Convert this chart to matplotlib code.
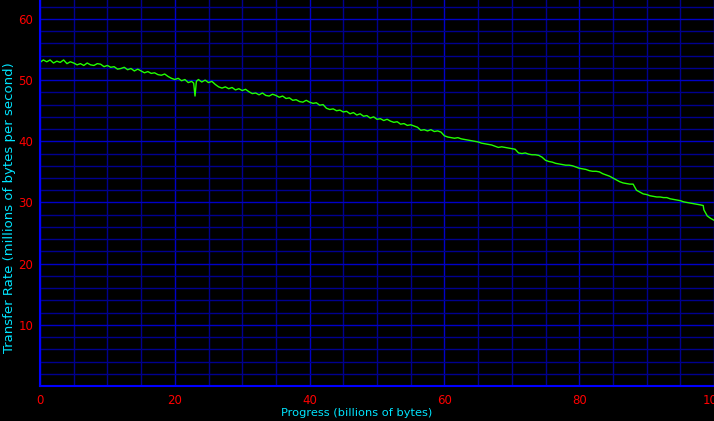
import matplotlib
matplotlib.use("Agg")
import matplotlib.pyplot as plt
from matplotlib.ticker import MultipleLocator

# Data (progress in billions of bytes, rate in MB/s)
progress = [0, 0.5, 1, 1.5, 2, 2.5, 3, 3.5, 4, 4.5, 5, 5.5, 6, 6.5, 7, 7.5, 8, 8.5, 9, 9.5,
            10, 10.5, 11, 11.5, 12, 12.5, 13, 13.5, 14, 14.5, 15, 15.5, 16, 16.5, 17, 17.5,
            18, 18.5, 19, 19.5, 20, 20.5, 21, 21.5, 22, 22.5, 22.8, 23.0, 23.2, 23.5, 24,
            24.5, 25, 25.5, 26, 26.5, 27, 27.5, 28, 28.5, 29, 29.5, 30, 30.5, 31, 31.5,
            32, 32.5, 33, 33.5, 34, 34.5, 35, 35.5, 36, 36.5, 37, 37.5, 38, 38.5, 39, 39.5,
            40, 40.5, 41, 41.5, 42, 42.5, 43, 43.5, 44, 44.5, 45, 45.5, 46, 46.5, 47, 47.5,
            48, 48.5, 49, 49.5, 50, 50.5, 51, 51.5, 52, 52.5, 53, 53.5, 54, 54.5, 55, 55.5,
            56, 56.5, 57, 57.5, 58, 58.5, 59, 59.5, 60, 60.5, 61, 61.5, 62, 62.5, 63, 63.5,
            64, 64.5, 65, 65.5, 66, 66.5, 67, 67.5, 68, 68.5, 69, 69.5, 70, 70.5, 71, 71.5,
            72, 72.5, 73, 73.5, 74, 74.5, 75, 75.5, 76, 76.5, 77, 77.5, 78, 78.5, 79, 79.5,
            80, 80.5, 81, 81.5, 82, 82.5, 83, 83.5, 84, 84.5, 85, 85.5, 86, 86.5, 87, 87.5,
            88, 88.5, 89, 89.5, 90, 90.5, 91, 91.5, 92, 92.5, 93, 93.5, 94, 94.5, 95, 95.5,
            96, 96.5, 97, 97.5, 98, 98.4, 98.5, 99, 99.5, 100]
rate = [52.9, 53.3, 53.0, 53.3, 52.8, 53.1, 52.9, 53.3, 52.7, 53.0, 52.8, 52.5, 52.7, 52.4,
        52.8, 52.5, 52.4, 52.7, 52.6, 52.2, 52.4, 52.1, 52.2, 51.8, 51.9, 52.1, 51.7, 51.9,
        51.5, 51.8, 51.5, 51.2, 51.4, 51.1, 51.2, 50.9, 50.8, 51.0, 50.6, 50.3, 50.1, 50.3,
        49.9, 50.1, 49.6, 49.8, 49.5, 47.4, 49.8, 50.1, 49.7, 50.0, 49.6, 49.8, 49.3, 48.9,
        48.7, 48.9, 48.6, 48.8, 48.4, 48.6, 48.3, 48.5, 48.1, 47.8, 47.9, 47.6, 47.9, 47.5,
        47.4, 47.7, 47.5, 47.2, 47.4, 47.0, 47.1, 46.7, 46.8, 46.5, 46.4, 46.7, 46.4, 46.2,
        46.3, 45.9, 46.0, 45.4, 45.2, 45.3, 45.0, 45.1, 44.8, 44.9, 44.5, 44.7, 44.3, 44.5,
        44.1, 44.2, 43.8, 44.0, 43.6, 43.7, 43.4, 43.6, 43.3, 43.1, 43.2, 42.8, 42.9, 42.6,
        42.7, 42.5, 42.3, 41.8, 41.9, 41.7, 41.9, 41.6, 41.7, 41.5, 40.9, 40.7, 40.6, 40.5,
        40.6, 40.4, 40.3, 40.2, 40.1, 40.0, 39.9, 39.7, 39.6, 39.5, 39.4, 39.2, 39.0, 39.1,
        39.0, 38.9, 38.8, 38.7, 38.1, 38.0, 38.1, 37.9, 37.8, 37.8, 37.7, 37.4, 36.9, 36.7,
        36.6, 36.4, 36.3, 36.2, 36.1, 36.1, 36.0, 35.8, 35.6, 35.5, 35.4, 35.2, 35.1, 35.1,
        35.0, 34.7, 34.5, 34.3, 34.0, 33.7, 33.4, 33.2, 33.1, 33.0, 33.0, 32.0, 31.7, 31.4,
        31.3, 31.1, 31.0, 30.9, 30.9, 30.8, 30.8, 30.6, 30.5, 30.4, 30.3, 30.1, 30.0, 29.9,
        29.8, 29.7, 29.6, 29.5, 28.8, 27.8, 27.4, 27.1]

x_ticks = [0, 20, 40, 60, 80, 100]
y_ticks = [10, 20, 30, 40, 50, 60]
bright_x = [20, 60]
bright_y = [20, 50]

BG = "black"
DIM = "#00008f"
MED = "#0000c8"
BRIGHT = "#0000ff"

fig = plt.figure(figsize=(7.14, 4.21), dpi=100, facecolor=BG)
ax = fig.add_axes([40 / 714, 1 - 386 / 421, 674 / 714, 386 / 421])
ax.set_facecolor(BG)

ax.set_xlim(0, 100)
ax.set_ylim(0, 63.1)
ax.xaxis.set_major_locator(MultipleLocator(20))
ax.xaxis.set_minor_locator(MultipleLocator(5))
ax.yaxis.set_major_locator(MultipleLocator(10))
ax.yaxis.set_minor_locator(MultipleLocator(2))
ax.set_xticks(x_ticks)
ax.set_yticks(y_ticks)

ax.grid(True, which="minor", color=DIM, linewidth=1.0)
ax.grid(True, which="major", color=MED, linewidth=1.0)
ax.set_axisbelow(True)

for tick in ax.xaxis.get_major_ticks():
    if tick.get_loc() in bright_x:
        tick.gridline.set_color(BRIGHT)
        tick.gridline.set_linewidth(1.3)
for tick in ax.yaxis.get_major_ticks():
    if tick.get_loc() in bright_y:
        tick.gridline.set_color(BRIGHT)
        tick.gridline.set_linewidth(1.3)

for side in ["top", "right"]:
    ax.spines[side].set_visible(False)
for side in ["left", "bottom"]:
    ax.spines[side].set_color(BRIGHT)
    ax.spines[side].set_linewidth(1.5)

ax.tick_params(which="both", length=0, colors="#ff0000", labelsize=8.5)
ax.tick_params(axis="y", pad=5)
ax.tick_params(axis="x", pad=6)

ax.plot(progress, rate, color="#22ff00", linewidth=1.0, clip_on=False)

ax.set_xlabel("Progress (billions of bytes)", color="#00e5ff", fontsize=8.2)
ax.set_ylabel("Transfer Rate (millions of bytes per second)", color="#00e5ff", fontsize=9.5)
ax.xaxis.set_label_coords((356.5 - 40) / 674, (386 - 413) / 386)
ax.yaxis.set_label_coords((10 - 40) / 674, (386 - 208) / 386)
ax.xaxis.label.set_va("center")
ax.yaxis.label.set_va("center")

fig.savefig("out.png", dpi=100, facecolor=BG)
